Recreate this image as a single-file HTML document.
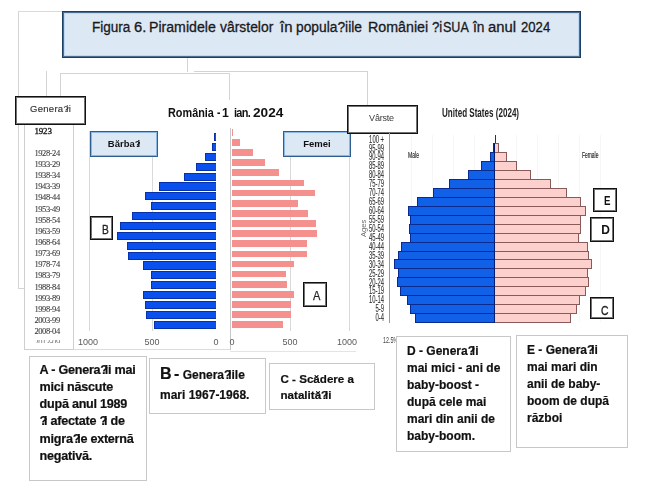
<!DOCTYPE html>
<html><head><meta charset="utf-8"><style>
html,body{margin:0;padding:0;}
body{width:668px;height:491px;position:relative;overflow:hidden;background:#fff;font-family:"Liberation Sans", sans-serif;}
</style></head><body><div id="wrap" style="position:absolute;left:0;top:0;width:668px;height:491px;filter:blur(0.3px)">
<div style="position:absolute;left:18px;top:11px;width:44px;height:1px;background:#dadada"></div>
<div style="position:absolute;left:18px;top:11px;width:1px;height:278px;background:#d4d4d4"></div>
<div style="position:absolute;left:18px;top:288px;width:6px;height:1px;background:#d4d4d4"></div>
<div style="position:absolute;left:46px;top:71px;width:1px;height:26px;background:#d4d4d4"></div>
<div style="position:absolute;left:187px;top:58px;width:1px;height:14px;background:#d4d4d4"></div>
<div style="position:absolute;left:194px;top:71px;width:174px;height:1px;background:#d4d4d4"></div>
<div style="position:absolute;left:60px;top:73px;width:170px;height:1px;background:#d4d4d4"></div>
<div style="position:absolute;left:60px;top:73px;width:1px;height:24px;background:#d4d4d4"></div>
<div style="position:absolute;left:229px;top:73px;width:1px;height:27px;background:#d4d4d4"></div>
<div style="position:absolute;left:367px;top:71px;width:1px;height:35px;background:#d4d4d4"></div>
<div style="position:absolute;left:62px;top:11px;width:519px;height:47px;box-sizing:border-box;border:1px solid #1c4064;box-shadow:inset 0 0 0 1px rgba(28,64,100,0.7),inset 0 0 0 2px #bcd8f2;background:#dde8f5"></div>
<div style="position:absolute;left:91.53px;top:20px;font-size:14px;font-weight:normal;color:#1a1a1a;white-space:nowrap;line-height:1;-webkit-text-stroke:0.3px #1a1a1a;transform:scaleX(0.967);transform-origin:0 0">Figura</div>
<div style="position:absolute;left:133.95px;top:20px;font-size:14px;font-weight:normal;color:#1a1a1a;white-space:nowrap;line-height:1;-webkit-text-stroke:0.3px #1a1a1a;transform:scaleX(1.05);transform-origin:0 0">6.</div>
<div style="position:absolute;left:148.99px;top:20px;font-size:14px;font-weight:normal;color:#1a1a1a;white-space:nowrap;line-height:1;-webkit-text-stroke:0.3px #1a1a1a;transform:scaleX(1.009);transform-origin:0 0">Piramidele</div>
<div style="position:absolute;left:220.4px;top:20px;font-size:14px;font-weight:normal;color:#1a1a1a;white-space:nowrap;line-height:1;-webkit-text-stroke:0.3px #1a1a1a;transform:scaleX(0.993);transform-origin:0 0">vârstelor</div>
<div style="position:absolute;left:279.8px;top:20px;font-size:14px;font-weight:normal;color:#1a1a1a;white-space:nowrap;line-height:1;-webkit-text-stroke:0.3px #1a1a1a;transform:scaleX(1.064);transform-origin:0 0">în</div>
<div style="position:absolute;left:296.41px;top:20px;font-size:14px;font-weight:normal;color:#1a1a1a;white-space:nowrap;line-height:1;-webkit-text-stroke:0.3px #1a1a1a;transform:scaleX(0.985);transform-origin:0 0">popula?iile</div>
<div style="position:absolute;left:367.78px;top:20px;font-size:14px;font-weight:normal;color:#1a1a1a;white-space:nowrap;line-height:1;-webkit-text-stroke:0.3px #1a1a1a;transform:scaleX(1.018);transform-origin:0 0">României</div>
<div style="position:absolute;left:431.56px;top:20px;font-size:14px;font-weight:normal;color:#1a1a1a;white-space:nowrap;line-height:1;-webkit-text-stroke:0.3px #1a1a1a;transform:scaleX(0.944);transform-origin:0 0">?i</div>
<div style="position:absolute;left:442.8px;top:20px;font-size:14px;font-weight:normal;color:#1a1a1a;white-space:nowrap;line-height:1;-webkit-text-stroke:0.3px #1a1a1a;transform:scaleX(0.896);transform-origin:0 0">SUA</div>
<div style="position:absolute;left:473.3px;top:20px;font-size:14px;font-weight:normal;color:#1a1a1a;white-space:nowrap;line-height:1;-webkit-text-stroke:0.3px #1a1a1a;transform:scaleX(0.982);transform-origin:0 0">în</div>
<div style="position:absolute;left:487.94px;top:20px;font-size:14px;font-weight:normal;color:#1a1a1a;white-space:nowrap;line-height:1;-webkit-text-stroke:0.3px #1a1a1a;transform:scaleX(1.06);transform-origin:0 0">anul</div>
<div style="position:absolute;left:521.36px;top:20px;font-size:14px;font-weight:normal;color:#1a1a1a;white-space:nowrap;line-height:1;-webkit-text-stroke:0.3px #1a1a1a;transform:scaleX(0.937);transform-origin:0 0">2024</div>
<div style="position:absolute;left:89px;top:131px;width:1px;height:200px;background:#d9d9d9"></div>
<div style="position:absolute;left:152px;top:131px;width:1px;height:200px;background:#d9d9d9"></div>
<div style="position:absolute;left:290px;top:131px;width:1px;height:200px;background:#d9d9d9"></div>
<div style="position:absolute;left:349px;top:131px;width:1px;height:200px;background:#d9d9d9"></div>
<div style="position:absolute;left:230px;top:128px;width:1px;height:222px;background:#c8c8c8"></div>
<div style="position:absolute;left:73px;top:349px;width:157px;height:1px;background:#dcdcdc"></div>
<div style="position:absolute;left:230px;top:351px;width:126px;height:1px;background:#e4e4e4"></div>
<div style="position:absolute;left:167.9px;top:107.4px;font-size:12.9px;font-weight:bold;color:#111;white-space:nowrap;line-height:1;letter-spacing:0px;transform:scaleX(0.843);transform-origin:0 0">România</div>
<div style="position:absolute;left:217.2px;top:107.4px;font-size:12.9px;font-weight:bold;color:#111;white-space:nowrap;line-height:1;letter-spacing:0px;transform:scaleX(0.8);transform-origin:0 0">-</div>
<div style="position:absolute;left:222.4px;top:107.4px;font-size:12.9px;font-weight:bold;color:#111;white-space:nowrap;line-height:1;letter-spacing:0px;transform:scaleX(0.95);transform-origin:0 0">1</div>
<div style="position:absolute;left:233.8px;top:107.4px;font-size:12.9px;font-weight:bold;color:#111;white-space:nowrap;line-height:1;letter-spacing:-0.8px;transform:scaleX(0.85);transform-origin:0 0">ian.</div>
<div style="position:absolute;left:252.5px;top:107.4px;font-size:12.9px;font-weight:bold;color:#111;white-space:nowrap;line-height:1;letter-spacing:0px;transform:scaleX(1.06);transform-origin:0 0">2024</div>
<div style="position:absolute;left:214.2px;top:133.0px;width:1.8000000000000114px;height:8.199999999999989px;box-sizing:border-box;background:#0a50ee;border:1px solid #0830a8;border-right:none"></div>
<div style="position:absolute;left:212.2px;top:142.9px;width:3.8000000000000114px;height:8.199999999999989px;box-sizing:border-box;background:#0a50ee;border:1px solid #0830a8;border-right:none"></div>
<div style="position:absolute;left:204.5px;top:152.8px;width:11.5px;height:8.199999999999989px;box-sizing:border-box;background:#0a50ee;border:1px solid #0830a8;border-right:none"></div>
<div style="position:absolute;left:195.7px;top:162.6px;width:20.30000000000001px;height:8.200000000000017px;box-sizing:border-box;background:#0a50ee;border:1px solid #0830a8;border-right:none"></div>
<div style="position:absolute;left:183.7px;top:172.5px;width:32.30000000000001px;height:8.199999999999989px;box-sizing:border-box;background:#0a50ee;border:1px solid #0830a8;border-right:none"></div>
<div style="position:absolute;left:159.2px;top:182.4px;width:56.80000000000001px;height:8.199999999999989px;box-sizing:border-box;background:#0a50ee;border:1px solid #0830a8;border-right:none"></div>
<div style="position:absolute;left:144.6px;top:192.3px;width:71.4px;height:8.199999999999989px;box-sizing:border-box;background:#0a50ee;border:1px solid #0830a8;border-right:none"></div>
<div style="position:absolute;left:151.4px;top:202.2px;width:64.6px;height:8.200000000000017px;box-sizing:border-box;background:#0a50ee;border:1px solid #0830a8;border-right:none"></div>
<div style="position:absolute;left:132.3px;top:212.0px;width:83.69999999999999px;height:8.199999999999989px;box-sizing:border-box;background:#0a50ee;border:1px solid #0830a8;border-right:none"></div>
<div style="position:absolute;left:120.1px;top:221.9px;width:95.9px;height:8.199999999999989px;box-sizing:border-box;background:#0a50ee;border:1px solid #0830a8;border-right:none"></div>
<div style="position:absolute;left:116.9px;top:231.8px;width:99.1px;height:8.199999999999989px;box-sizing:border-box;background:#0a50ee;border:1px solid #0830a8;border-right:none"></div>
<div style="position:absolute;left:127px;top:241.7px;width:89px;height:8.200000000000017px;box-sizing:border-box;background:#0a50ee;border:1px solid #0830a8;border-right:none"></div>
<div style="position:absolute;left:128px;top:251.6px;width:88px;height:8.200000000000017px;box-sizing:border-box;background:#0a50ee;border:1px solid #0830a8;border-right:none"></div>
<div style="position:absolute;left:142.6px;top:261.4px;width:73.4px;height:8.200000000000045px;box-sizing:border-box;background:#0a50ee;border:1px solid #0830a8;border-right:none"></div>
<div style="position:absolute;left:151.4px;top:271.3px;width:64.6px;height:8.199999999999989px;box-sizing:border-box;background:#0a50ee;border:1px solid #0830a8;border-right:none"></div>
<div style="position:absolute;left:151.4px;top:281.2px;width:64.6px;height:8.199999999999989px;box-sizing:border-box;background:#0a50ee;border:1px solid #0830a8;border-right:none"></div>
<div style="position:absolute;left:143.3px;top:291.1px;width:72.69999999999999px;height:8.199999999999989px;box-sizing:border-box;background:#0a50ee;border:1px solid #0830a8;border-right:none"></div>
<div style="position:absolute;left:144.6px;top:301.0px;width:71.4px;height:8.199999999999989px;box-sizing:border-box;background:#0a50ee;border:1px solid #0830a8;border-right:none"></div>
<div style="position:absolute;left:145.8px;top:310.8px;width:70.19999999999999px;height:8.199999999999989px;box-sizing:border-box;background:#0a50ee;border:1px solid #0830a8;border-right:none"></div>
<div style="position:absolute;left:154.4px;top:320.7px;width:61.599999999999994px;height:8.199999999999989px;box-sizing:border-box;background:#0a50ee;border:1px solid #0830a8;border-right:none"></div>
<div style="position:absolute;left:231.7px;top:128.9px;width:1.3000000000000114px;height:6.799999999999983px;background:#f4908e"></div>
<div style="position:absolute;left:231.7px;top:139.0px;width:8.0px;height:6.800000000000011px;background:#f4908e"></div>
<div style="position:absolute;left:231.7px;top:149.2px;width:21.200000000000017px;height:6.800000000000011px;background:#f4908e"></div>
<div style="position:absolute;left:231.7px;top:159.3px;width:33.30000000000001px;height:6.799999999999983px;background:#f4908e"></div>
<div style="position:absolute;left:231.7px;top:169.4px;width:47.0px;height:6.799999999999983px;background:#f4908e"></div>
<div style="position:absolute;left:231.7px;top:179.6px;width:72.5px;height:6.800000000000011px;background:#f4908e"></div>
<div style="position:absolute;left:231.7px;top:189.7px;width:83.5px;height:6.800000000000011px;background:#f4908e"></div>
<div style="position:absolute;left:231.7px;top:199.8px;width:66.69999999999999px;height:6.799999999999983px;background:#f4908e"></div>
<div style="position:absolute;left:231.7px;top:209.9px;width:76.80000000000001px;height:6.799999999999983px;background:#f4908e"></div>
<div style="position:absolute;left:231.7px;top:220.1px;width:84.60000000000002px;height:6.800000000000011px;background:#f4908e"></div>
<div style="position:absolute;left:231.7px;top:230.2px;width:85.69999999999999px;height:6.800000000000011px;background:#f4908e"></div>
<div style="position:absolute;left:231.7px;top:240.3px;width:75.60000000000002px;height:6.799999999999983px;background:#f4908e"></div>
<div style="position:absolute;left:231.7px;top:250.5px;width:75.60000000000002px;height:6.800000000000011px;background:#f4908e"></div>
<div style="position:absolute;left:231.7px;top:260.6px;width:62.400000000000034px;height:6.7999999999999545px;background:#f4908e"></div>
<div style="position:absolute;left:231.7px;top:270.7px;width:54.5px;height:6.800000000000011px;background:#f4908e"></div>
<div style="position:absolute;left:231.7px;top:280.9px;width:55.80000000000001px;height:6.800000000000011px;background:#f4908e"></div>
<div style="position:absolute;left:231.7px;top:291.0px;width:62.400000000000034px;height:6.800000000000011px;background:#f4908e"></div>
<div style="position:absolute;left:231.7px;top:301.1px;width:59.69999999999999px;height:6.7999999999999545px;background:#f4908e"></div>
<div style="position:absolute;left:231.7px;top:311.2px;width:59.69999999999999px;height:6.800000000000011px;background:#f4908e"></div>
<div style="position:absolute;left:231.7px;top:321.4px;width:51.30000000000001px;height:6.800000000000011px;background:#f4908e"></div>
<div style="position:absolute;left:90px;top:131px;width:68px;height:26px;box-sizing:border-box;border:1px solid #2f5f90;box-shadow:inset 0 0 0 1px #8ab8e6;background:#dde8f5"></div>
<div style="position:absolute;left:90px;top:139px;font-size:9.5px;font-weight:bold;color:#111;white-space:nowrap;line-height:1;"><div style="width:68px;text-align:center">Bărba<span style="letter-spacing:-3px">?</span>i</div></div>
<div style="position:absolute;left:283px;top:131px;width:68px;height:26px;box-sizing:border-box;border:1px solid #2f5f90;box-shadow:inset 0 0 0 1px #8ab8e6;background:#dde8f5"></div>
<div style="position:absolute;left:283px;top:139px;font-size:9.5px;font-weight:bold;color:#111;white-space:nowrap;line-height:1;"><div style="width:68px;text-align:center">Femei</div></div>
<div style="position:absolute;left:73px;top:338px;font-size:9px;font-weight:normal;color:#5a5a5a;white-space:nowrap;line-height:1;"><div style="width:30px;text-align:center">1000</div></div>
<div style="position:absolute;left:137px;top:338px;font-size:9px;font-weight:normal;color:#5a5a5a;white-space:nowrap;line-height:1;"><div style="width:30px;text-align:center">500</div></div>
<div style="position:absolute;left:201px;top:338px;font-size:9px;font-weight:normal;color:#5a5a5a;white-space:nowrap;line-height:1;"><div style="width:30px;text-align:center">0</div></div>
<div style="position:absolute;left:217px;top:338px;font-size:9px;font-weight:normal;color:#5a5a5a;white-space:nowrap;line-height:1;"><div style="width:30px;text-align:center">0</div></div>
<div style="position:absolute;left:275px;top:338px;font-size:9px;font-weight:normal;color:#5a5a5a;white-space:nowrap;line-height:1;"><div style="width:30px;text-align:center">500</div></div>
<div style="position:absolute;left:332px;top:338px;font-size:9px;font-weight:normal;color:#5a5a5a;white-space:nowrap;line-height:1;"><div style="width:30px;text-align:center">1000</div></div>
<div style="position:absolute;left:90px;top:216px;width:23px;height:24px;box-sizing:border-box;border:1px solid #111;box-shadow:inset 0 0 0 1px rgba(0,0,0,0.55);background:#fff"></div>
<div style="position:absolute;left:101.6px;top:223.6px;font-size:12.5px;font-weight:normal;color:#222;white-space:nowrap;line-height:1;-webkit-text-stroke:0.3px #222;transform:scaleX(0.82);transform-origin:0 0">B</div>
<div style="position:absolute;left:303px;top:282px;width:24px;height:25px;box-sizing:border-box;border:1px solid #111;box-shadow:inset 0 0 0 1px rgba(0,0,0,0.55);background:#fff"></div>
<div style="position:absolute;left:313.2px;top:289.8px;font-size:12.3px;font-weight:normal;color:#222;white-space:nowrap;line-height:1;-webkit-text-stroke:0.25px #222;transform:scaleX(0.9);transform-origin:0 0">A</div>
<div style="position:absolute;left:24px;top:124px;width:50px;height:226px;box-sizing:border-box;border:1px solid #cfcfcf;background:#fff"></div>
<div style="position:absolute;left:15px;top:96px;width:71px;height:29px;box-sizing:border-box;border:1px solid #111;box-shadow:inset 0 0 0 1px rgba(0,0,0,0.55);background:#fff"></div>
<div style="position:absolute;left:15px;top:104.3px;font-size:9.5px;font-weight:normal;color:#333;white-space:nowrap;line-height:1;-webkit-text-stroke:0.15px #333"><div style="width:71px;text-align:center;letter-spacing:0.3px">Genera<span style="letter-spacing:-2.5px">?</span>ii</div></div>
<div style="position:absolute;left:34.5px;top:127.3px;font-size:9px;font-weight:normal;color:#222;white-space:nowrap;line-height:1;font-family:Liberation Serif,serif;letter-spacing:-0.2px;-webkit-text-stroke:0.35px #222">1923</div>
<div style="position:absolute;left:34.5px;top:148.8px;font-size:8.5px;font-weight:normal;color:#404040;white-space:nowrap;line-height:1;font-family:Liberation Serif,serif;letter-spacing:-0.45px;-webkit-text-stroke:0.1px #404040">1928-24</div>
<div style="position:absolute;left:34.5px;top:159.9px;font-size:8.5px;font-weight:normal;color:#404040;white-space:nowrap;line-height:1;font-family:Liberation Serif,serif;letter-spacing:-0.45px;-webkit-text-stroke:0.1px #404040">1933-29</div>
<div style="position:absolute;left:34.5px;top:171.1px;font-size:8.5px;font-weight:normal;color:#404040;white-space:nowrap;line-height:1;font-family:Liberation Serif,serif;letter-spacing:-0.45px;-webkit-text-stroke:0.1px #404040">1938-34</div>
<div style="position:absolute;left:34.5px;top:182.2px;font-size:8.5px;font-weight:normal;color:#404040;white-space:nowrap;line-height:1;font-family:Liberation Serif,serif;letter-spacing:-0.45px;-webkit-text-stroke:0.1px #404040">1943-39</div>
<div style="position:absolute;left:34.5px;top:193.4px;font-size:8.5px;font-weight:normal;color:#404040;white-space:nowrap;line-height:1;font-family:Liberation Serif,serif;letter-spacing:-0.45px;-webkit-text-stroke:0.1px #404040">1948-44</div>
<div style="position:absolute;left:34.5px;top:204.5px;font-size:8.5px;font-weight:normal;color:#404040;white-space:nowrap;line-height:1;font-family:Liberation Serif,serif;letter-spacing:-0.45px;-webkit-text-stroke:0.1px #404040">1953-49</div>
<div style="position:absolute;left:34.5px;top:215.6px;font-size:8.5px;font-weight:normal;color:#404040;white-space:nowrap;line-height:1;font-family:Liberation Serif,serif;letter-spacing:-0.45px;-webkit-text-stroke:0.1px #404040">1958-54</div>
<div style="position:absolute;left:34.5px;top:226.8px;font-size:8.5px;font-weight:normal;color:#404040;white-space:nowrap;line-height:1;font-family:Liberation Serif,serif;letter-spacing:-0.45px;-webkit-text-stroke:0.1px #404040">1963-59</div>
<div style="position:absolute;left:34.5px;top:237.9px;font-size:8.5px;font-weight:normal;color:#404040;white-space:nowrap;line-height:1;font-family:Liberation Serif,serif;letter-spacing:-0.45px;-webkit-text-stroke:0.1px #404040">1968-64</div>
<div style="position:absolute;left:34.5px;top:249.1px;font-size:8.5px;font-weight:normal;color:#404040;white-space:nowrap;line-height:1;font-family:Liberation Serif,serif;letter-spacing:-0.45px;-webkit-text-stroke:0.1px #404040">1973-69</div>
<div style="position:absolute;left:34.5px;top:260.2px;font-size:8.5px;font-weight:normal;color:#404040;white-space:nowrap;line-height:1;font-family:Liberation Serif,serif;letter-spacing:-0.45px;-webkit-text-stroke:0.1px #404040">1978-74</div>
<div style="position:absolute;left:34.5px;top:271.3px;font-size:8.5px;font-weight:normal;color:#404040;white-space:nowrap;line-height:1;font-family:Liberation Serif,serif;letter-spacing:-0.45px;-webkit-text-stroke:0.1px #404040">1983-79</div>
<div style="position:absolute;left:34.5px;top:282.5px;font-size:8.5px;font-weight:normal;color:#404040;white-space:nowrap;line-height:1;font-family:Liberation Serif,serif;letter-spacing:-0.45px;-webkit-text-stroke:0.1px #404040">1988-84</div>
<div style="position:absolute;left:34.5px;top:293.6px;font-size:8.5px;font-weight:normal;color:#404040;white-space:nowrap;line-height:1;font-family:Liberation Serif,serif;letter-spacing:-0.45px;-webkit-text-stroke:0.1px #404040">1993-89</div>
<div style="position:absolute;left:34.5px;top:304.8px;font-size:8.5px;font-weight:normal;color:#404040;white-space:nowrap;line-height:1;font-family:Liberation Serif,serif;letter-spacing:-0.45px;-webkit-text-stroke:0.1px #404040">1998-94</div>
<div style="position:absolute;left:34.5px;top:315.9px;font-size:8.5px;font-weight:normal;color:#404040;white-space:nowrap;line-height:1;font-family:Liberation Serif,serif;letter-spacing:-0.45px;-webkit-text-stroke:0.1px #404040">2003-99</div>
<div style="position:absolute;left:34.5px;top:327.0px;font-size:8.5px;font-weight:normal;color:#404040;white-space:nowrap;line-height:1;font-family:Liberation Serif,serif;letter-spacing:-0.45px;-webkit-text-stroke:0.1px #404040">2008-04</div>
<div style="position:absolute;left:30px;top:340px;width:40px;height:3px;overflow:hidden"><div style="position:absolute;left:4.5px;top:-2.4px;font-size:8.5px;font-weight:normal;color:#777;white-space:nowrap;line-height:1;font-family:Liberation Serif,serif;letter-spacing:-0.45px">2013-09</div></div>
<div style="position:absolute;left:347px;top:105px;width:71px;height:29px;box-sizing:border-box;border:1px solid #111;box-shadow:inset 0 0 0 1px rgba(0,0,0,0.55);background:#fff"></div>
<div style="position:absolute;left:346px;top:113.5px;font-size:9px;font-weight:normal;color:#3a3a3a;white-space:nowrap;line-height:1;"><div style="width:71px;text-align:center;letter-spacing:-0.2px">Vârste</div></div>
<div style="position:absolute;left:442px;top:106.8px;font-size:12.6px;font-weight:bold;color:#222;white-space:nowrap;line-height:1;transform:scaleX(0.64);transform-origin:0 0">United States (2024)</div>
<div style="position:absolute;left:389px;top:133px;width:1px;height:190px;background:#9a9a9a"></div>
<div style="position:absolute;left:411px;top:134.5px;width:1px;height:187.5px;background:#f6f6f6"></div>
<div style="position:absolute;left:432px;top:134.5px;width:1px;height:187.5px;background:#f6f6f6"></div>
<div style="position:absolute;left:453px;top:134.5px;width:1px;height:187.5px;background:#f6f6f6"></div>
<div style="position:absolute;left:474px;top:134.5px;width:1px;height:187.5px;background:#f6f6f6"></div>
<div style="position:absolute;left:516px;top:134.5px;width:1px;height:187.5px;background:#f6f6f6"></div>
<div style="position:absolute;left:537px;top:134.5px;width:1px;height:187.5px;background:#f6f6f6"></div>
<div style="position:absolute;left:558px;top:134.5px;width:1px;height:187.5px;background:#f6f6f6"></div>
<div style="position:absolute;left:579px;top:134.5px;width:1px;height:187.5px;background:#f6f6f6"></div>
<div style="position:absolute;left:600px;top:134.5px;width:1px;height:187.5px;background:#f6f6f6"></div>
<div style="position:absolute;left:494.5px;top:134.5px;width:1px;height:8.900000000000006px;background:#333"></div>
<div style="position:absolute;left:344px;top:133.6px;font-size:10.5px;font-weight:normal;color:#333;white-space:nowrap;line-height:1;transform:scaleX(0.56);transform-origin:100% 0;-webkit-text-stroke:0.12px #333"><div style="width:40px;text-align:right">100 +</div></div>
<div style="position:absolute;left:493px;top:143px;width:2px;height:10px;box-sizing:border-box;background:#1060e8;border:1px solid #0a2a90;border-right:1px solid #001a70"></div>
<div style="position:absolute;left:495px;top:143px;width:4px;height:10px;box-sizing:border-box;background:#fcd0cc;border:1px solid #8a5a5a;border-left:none"></div>
<div style="position:absolute;left:344px;top:142.5px;font-size:10.5px;font-weight:normal;color:#333;white-space:nowrap;line-height:1;transform:scaleX(0.56);transform-origin:100% 0;-webkit-text-stroke:0.12px #333"><div style="width:40px;text-align:right">95-99</div></div>
<div style="position:absolute;left:490px;top:152px;width:5px;height:10px;box-sizing:border-box;background:#1060e8;border:1px solid #0a2a90;border-right:1px solid #001a70"></div>
<div style="position:absolute;left:495px;top:152px;width:12px;height:10px;box-sizing:border-box;background:#fcd0cc;border:1px solid #8a5a5a;border-left:none"></div>
<div style="position:absolute;left:344px;top:151.4px;font-size:10.5px;font-weight:normal;color:#333;white-space:nowrap;line-height:1;transform:scaleX(0.56);transform-origin:100% 0;-webkit-text-stroke:0.12px #333"><div style="width:40px;text-align:right">90-94</div></div>
<div style="position:absolute;left:481px;top:161px;width:14px;height:10px;box-sizing:border-box;background:#1060e8;border:1px solid #0a2a90;border-right:1px solid #001a70"></div>
<div style="position:absolute;left:495px;top:161px;width:22px;height:10px;box-sizing:border-box;background:#fcd0cc;border:1px solid #8a5a5a;border-left:none"></div>
<div style="position:absolute;left:344px;top:160.4px;font-size:10.5px;font-weight:normal;color:#333;white-space:nowrap;line-height:1;transform:scaleX(0.56);transform-origin:100% 0;-webkit-text-stroke:0.12px #333"><div style="width:40px;text-align:right">85-89</div></div>
<div style="position:absolute;left:468px;top:170px;width:27px;height:10px;box-sizing:border-box;background:#1060e8;border:1px solid #0a2a90;border-right:1px solid #001a70"></div>
<div style="position:absolute;left:495px;top:170px;width:36px;height:10px;box-sizing:border-box;background:#fcd0cc;border:1px solid #8a5a5a;border-left:none"></div>
<div style="position:absolute;left:344px;top:169.3px;font-size:10.5px;font-weight:normal;color:#333;white-space:nowrap;line-height:1;transform:scaleX(0.56);transform-origin:100% 0;-webkit-text-stroke:0.12px #333"><div style="width:40px;text-align:right">80-84</div></div>
<div style="position:absolute;left:449px;top:179px;width:46px;height:10px;box-sizing:border-box;background:#1060e8;border:1px solid #0a2a90;border-right:1px solid #001a70"></div>
<div style="position:absolute;left:495px;top:179px;width:56px;height:10px;box-sizing:border-box;background:#fcd0cc;border:1px solid #8a5a5a;border-left:none"></div>
<div style="position:absolute;left:344px;top:178.2px;font-size:10.5px;font-weight:normal;color:#333;white-space:nowrap;line-height:1;transform:scaleX(0.56);transform-origin:100% 0;-webkit-text-stroke:0.12px #333"><div style="width:40px;text-align:right">75-79</div></div>
<div style="position:absolute;left:433px;top:188px;width:62px;height:10px;box-sizing:border-box;background:#1060e8;border:1px solid #0a2a90;border-right:1px solid #001a70"></div>
<div style="position:absolute;left:495px;top:188px;width:72px;height:10px;box-sizing:border-box;background:#fcd0cc;border:1px solid #8a5a5a;border-left:none"></div>
<div style="position:absolute;left:344px;top:187.2px;font-size:10.5px;font-weight:normal;color:#333;white-space:nowrap;line-height:1;transform:scaleX(0.56);transform-origin:100% 0;-webkit-text-stroke:0.12px #333"><div style="width:40px;text-align:right">70-74</div></div>
<div style="position:absolute;left:417px;top:197px;width:78px;height:10px;box-sizing:border-box;background:#1060e8;border:1px solid #0a2a90;border-right:1px solid #001a70"></div>
<div style="position:absolute;left:495px;top:197px;width:86px;height:10px;box-sizing:border-box;background:#fcd0cc;border:1px solid #8a5a5a;border-left:none"></div>
<div style="position:absolute;left:344px;top:196.1px;font-size:10.5px;font-weight:normal;color:#333;white-space:nowrap;line-height:1;transform:scaleX(0.56);transform-origin:100% 0;-webkit-text-stroke:0.12px #333"><div style="width:40px;text-align:right">65-69</div></div>
<div style="position:absolute;left:408px;top:206px;width:87px;height:10px;box-sizing:border-box;background:#1060e8;border:1px solid #0a2a90;border-right:1px solid #001a70"></div>
<div style="position:absolute;left:495px;top:206px;width:91px;height:10px;box-sizing:border-box;background:#fcd0cc;border:1px solid #8a5a5a;border-left:none"></div>
<div style="position:absolute;left:344px;top:205.0px;font-size:10.5px;font-weight:normal;color:#333;white-space:nowrap;line-height:1;transform:scaleX(0.56);transform-origin:100% 0;-webkit-text-stroke:0.12px #333"><div style="width:40px;text-align:right">60-64</div></div>
<div style="position:absolute;left:410px;top:215px;width:85px;height:10px;box-sizing:border-box;background:#1060e8;border:1px solid #0a2a90;border-right:1px solid #001a70"></div>
<div style="position:absolute;left:495px;top:215px;width:86px;height:10px;box-sizing:border-box;background:#fcd0cc;border:1px solid #8a5a5a;border-left:none"></div>
<div style="position:absolute;left:344px;top:213.9px;font-size:10.5px;font-weight:normal;color:#333;white-space:nowrap;line-height:1;transform:scaleX(0.56);transform-origin:100% 0;-webkit-text-stroke:0.12px #333"><div style="width:40px;text-align:right">55-59</div></div>
<div style="position:absolute;left:409px;top:224px;width:86px;height:10px;box-sizing:border-box;background:#1060e8;border:1px solid #0a2a90;border-right:1px solid #001a70"></div>
<div style="position:absolute;left:495px;top:224px;width:86px;height:10px;box-sizing:border-box;background:#fcd0cc;border:1px solid #8a5a5a;border-left:none"></div>
<div style="position:absolute;left:344px;top:222.9px;font-size:10.5px;font-weight:normal;color:#333;white-space:nowrap;line-height:1;transform:scaleX(0.56);transform-origin:100% 0;-webkit-text-stroke:0.12px #333"><div style="width:40px;text-align:right">50-54</div></div>
<div style="position:absolute;left:410px;top:233px;width:85px;height:10px;box-sizing:border-box;background:#1060e8;border:1px solid #0a2a90;border-right:1px solid #001a70"></div>
<div style="position:absolute;left:495px;top:233px;width:84px;height:10px;box-sizing:border-box;background:#fcd0cc;border:1px solid #8a5a5a;border-left:none"></div>
<div style="position:absolute;left:344px;top:231.8px;font-size:10.5px;font-weight:normal;color:#333;white-space:nowrap;line-height:1;transform:scaleX(0.56);transform-origin:100% 0;-webkit-text-stroke:0.12px #333"><div style="width:40px;text-align:right">45-49</div></div>
<div style="position:absolute;left:401px;top:242px;width:94px;height:10px;box-sizing:border-box;background:#1060e8;border:1px solid #0a2a90;border-right:1px solid #001a70"></div>
<div style="position:absolute;left:495px;top:242px;width:93px;height:10px;box-sizing:border-box;background:#fcd0cc;border:1px solid #8a5a5a;border-left:none"></div>
<div style="position:absolute;left:344px;top:240.7px;font-size:10.5px;font-weight:normal;color:#333;white-space:nowrap;line-height:1;transform:scaleX(0.56);transform-origin:100% 0;-webkit-text-stroke:0.12px #333"><div style="width:40px;text-align:right">40-44</div></div>
<div style="position:absolute;left:398px;top:251px;width:97px;height:9px;box-sizing:border-box;background:#1060e8;border:1px solid #0a2a90;border-right:1px solid #001a70"></div>
<div style="position:absolute;left:495px;top:251px;width:94px;height:9px;box-sizing:border-box;background:#fcd0cc;border:1px solid #8a5a5a;border-left:none"></div>
<div style="position:absolute;left:344px;top:249.7px;font-size:10.5px;font-weight:normal;color:#333;white-space:nowrap;line-height:1;transform:scaleX(0.56);transform-origin:100% 0;-webkit-text-stroke:0.12px #333"><div style="width:40px;text-align:right">35-39</div></div>
<div style="position:absolute;left:394px;top:259px;width:101px;height:10px;box-sizing:border-box;background:#1060e8;border:1px solid #0a2a90;border-right:1px solid #001a70"></div>
<div style="position:absolute;left:495px;top:259px;width:97px;height:10px;box-sizing:border-box;background:#fcd0cc;border:1px solid #8a5a5a;border-left:none"></div>
<div style="position:absolute;left:344px;top:258.6px;font-size:10.5px;font-weight:normal;color:#333;white-space:nowrap;line-height:1;transform:scaleX(0.56);transform-origin:100% 0;-webkit-text-stroke:0.12px #333"><div style="width:40px;text-align:right">30-34</div></div>
<div style="position:absolute;left:398px;top:268px;width:97px;height:10px;box-sizing:border-box;background:#1060e8;border:1px solid #0a2a90;border-right:1px solid #001a70"></div>
<div style="position:absolute;left:495px;top:268px;width:93px;height:10px;box-sizing:border-box;background:#fcd0cc;border:1px solid #8a5a5a;border-left:none"></div>
<div style="position:absolute;left:344px;top:267.5px;font-size:10.5px;font-weight:normal;color:#333;white-space:nowrap;line-height:1;transform:scaleX(0.56);transform-origin:100% 0;-webkit-text-stroke:0.12px #333"><div style="width:40px;text-align:right">25-29</div></div>
<div style="position:absolute;left:397px;top:277px;width:98px;height:10px;box-sizing:border-box;background:#1060e8;border:1px solid #0a2a90;border-right:1px solid #001a70"></div>
<div style="position:absolute;left:495px;top:277px;width:94px;height:10px;box-sizing:border-box;background:#fcd0cc;border:1px solid #8a5a5a;border-left:none"></div>
<div style="position:absolute;left:344px;top:276.5px;font-size:10.5px;font-weight:normal;color:#333;white-space:nowrap;line-height:1;transform:scaleX(0.56);transform-origin:100% 0;-webkit-text-stroke:0.12px #333"><div style="width:40px;text-align:right">20-24</div></div>
<div style="position:absolute;left:400px;top:286px;width:95px;height:10px;box-sizing:border-box;background:#1060e8;border:1px solid #0a2a90;border-right:1px solid #001a70"></div>
<div style="position:absolute;left:495px;top:286px;width:91px;height:10px;box-sizing:border-box;background:#fcd0cc;border:1px solid #8a5a5a;border-left:none"></div>
<div style="position:absolute;left:344px;top:285.4px;font-size:10.5px;font-weight:normal;color:#333;white-space:nowrap;line-height:1;transform:scaleX(0.56);transform-origin:100% 0;-webkit-text-stroke:0.12px #333"><div style="width:40px;text-align:right">15-19</div></div>
<div style="position:absolute;left:407px;top:295px;width:88px;height:10px;box-sizing:border-box;background:#1060e8;border:1px solid #0a2a90;border-right:1px solid #001a70"></div>
<div style="position:absolute;left:495px;top:295px;width:85px;height:10px;box-sizing:border-box;background:#fcd0cc;border:1px solid #8a5a5a;border-left:none"></div>
<div style="position:absolute;left:344px;top:294.3px;font-size:10.5px;font-weight:normal;color:#333;white-space:nowrap;line-height:1;transform:scaleX(0.56);transform-origin:100% 0;-webkit-text-stroke:0.12px #333"><div style="width:40px;text-align:right">10-14</div></div>
<div style="position:absolute;left:410px;top:304px;width:85px;height:10px;box-sizing:border-box;background:#1060e8;border:1px solid #0a2a90;border-right:1px solid #001a70"></div>
<div style="position:absolute;left:495px;top:304px;width:82px;height:10px;box-sizing:border-box;background:#fcd0cc;border:1px solid #8a5a5a;border-left:none"></div>
<div style="position:absolute;left:344px;top:303.2px;font-size:10.5px;font-weight:normal;color:#333;white-space:nowrap;line-height:1;transform:scaleX(0.56);transform-origin:100% 0;-webkit-text-stroke:0.12px #333"><div style="width:40px;text-align:right">5-9</div></div>
<div style="position:absolute;left:415px;top:313px;width:80px;height:10px;box-sizing:border-box;background:#1060e8;border:1px solid #0a2a90;border-right:1px solid #001a70"></div>
<div style="position:absolute;left:495px;top:313px;width:76px;height:10px;box-sizing:border-box;background:#fcd0cc;border:1px solid #8a5a5a;border-left:none"></div>
<div style="position:absolute;left:344px;top:312.2px;font-size:10.5px;font-weight:normal;color:#333;white-space:nowrap;line-height:1;transform:scaleX(0.56);transform-origin:100% 0;-webkit-text-stroke:0.12px #333"><div style="width:40px;text-align:right">0-4</div></div>
<div style="position:absolute;left:408px;top:151px;font-size:8.5px;font-weight:normal;color:#222;white-space:nowrap;line-height:1;-webkit-text-stroke:0.15px #222;transform:scaleX(0.6);transform-origin:0 0">Male</div>
<div style="position:absolute;left:582px;top:151px;font-size:8.5px;font-weight:normal;color:#222;white-space:nowrap;line-height:1;-webkit-text-stroke:0.15px #222;transform:scaleX(0.58);transform-origin:0 0">Female</div>
<div style="position:absolute;left:360px;top:237px;font-size:8px;font-weight:normal;color:#666;white-space:nowrap;line-height:1;transform:rotate(-90deg) scaleX(0.95);transform-origin:0 0">Ages</div>
<div style="position:absolute;left:383px;top:334.5px;font-size:9.5px;font-weight:normal;color:#444;white-space:nowrap;line-height:1;transform:scaleX(0.56);transform-origin:0 0">12.5%</div>
<div style="position:absolute;left:593px;top:188px;width:24px;height:24px;box-sizing:border-box;border:1px solid #111;box-shadow:inset 0 0 0 1px rgba(0,0,0,0.55);background:#fff"></div>
<div style="position:absolute;left:604.3px;top:195px;font-size:12.5px;font-weight:bold;color:#111;white-space:nowrap;line-height:1;transform:scaleX(0.78);transform-origin:0 0">E</div>
<div style="position:absolute;left:590.3px;top:217px;width:23.700000000000045px;height:24.5px;box-sizing:border-box;border:1px solid #111;box-shadow:inset 0 0 0 1px rgba(0,0,0,0.55);background:#fff"></div>
<div style="position:absolute;left:594px;top:224px;font-size:12px;font-weight:bold;color:#111;white-space:nowrap;line-height:1;"><div style="width:23px;text-align:center">D</div></div>
<div style="position:absolute;left:590.3px;top:296.6px;width:24.0px;height:22.899999999999977px;box-sizing:border-box;border:1px solid #111;box-shadow:inset 0 0 0 1px rgba(0,0,0,0.55);background:#fff"></div>
<div style="position:absolute;left:600.6px;top:303.6px;font-size:13px;font-weight:normal;color:#222;white-space:nowrap;line-height:1;-webkit-text-stroke:0.35px #222;transform:scaleX(0.8);transform-origin:0 0">C</div>
<div style="position:absolute;left:29px;top:356px;width:118px;height:125px;box-sizing:border-box;border:1px solid #c8c8c8;background:#fff"></div>
<div style="position:absolute;left:39.6px;top:361.8px;font-size:12.6px;font-weight:bold;color:#111;line-height:17.2px;white-space:nowrap;letter-spacing:-0.25px;-webkit-text-stroke:0.2px #111">A - Genera<span style="letter-spacing:-3.2px">?</span>ii mai<br>mici născute<br>după anul 1989<br><span style="letter-spacing:-3.2px">?</span>i afectate <span style="letter-spacing:-3.2px">?</span>i de<br>migra<span style="letter-spacing:-3.2px">?</span>ie externă<br>negativă.</div>
<div style="position:absolute;left:149px;top:358px;width:117px;height:56px;box-sizing:border-box;border:1px solid #c8c8c8;background:#fff"></div>
<div style="position:absolute;left:160px;top:363.5px;font-size:12px;font-weight:bold;color:#111;line-height:20.5px;white-space:nowrap;letter-spacing:0px;-webkit-text-stroke:0.2px #111"><span style="font-size:16px;word-spacing:-2px">B -</span> Genera<span style="letter-spacing:-3.2px">?</span>iile<br>mari 1967-1968.</div>
<div style="position:absolute;left:269px;top:363px;width:106px;height:47px;box-sizing:border-box;border:1px solid #c8c8c8;background:#fff"></div>
<div style="position:absolute;left:280.5px;top:370.5px;font-size:11.6px;font-weight:bold;color:#111;line-height:16.6px;white-space:nowrap;letter-spacing:0px;-webkit-text-stroke:0.2px #111">C - Scădere a<br>natalită<span style="letter-spacing:-3.2px">?</span>ii</div>
<div style="position:absolute;left:396px;top:336px;width:115px;height:116px;box-sizing:border-box;border:1px solid #c8c8c8;background:#fff"></div>
<div style="position:absolute;left:407px;top:343px;font-size:12px;font-weight:bold;color:#111;line-height:17.1px;white-space:nowrap;letter-spacing:0px;-webkit-text-stroke:0.2px #111">D - Genera<span style="letter-spacing:-3.2px">?</span>ii<br>mai mici - ani de<br>baby-boost -<br>după cele mai<br>mari din anii de<br>baby-boom.</div>
<div style="position:absolute;left:516px;top:335px;width:112px;height:113px;box-sizing:border-box;border:1px solid #c8c8c8;background:#fff"></div>
<div style="position:absolute;left:527px;top:342px;font-size:12px;font-weight:bold;color:#111;line-height:16.9px;white-space:nowrap;letter-spacing:0px;-webkit-text-stroke:0.2px #111">E - Genera<span style="letter-spacing:-3.2px">?</span>ii<br>mai mari din<br>anii de baby-<br>boom de după<br>război</div>
</div></body></html>
